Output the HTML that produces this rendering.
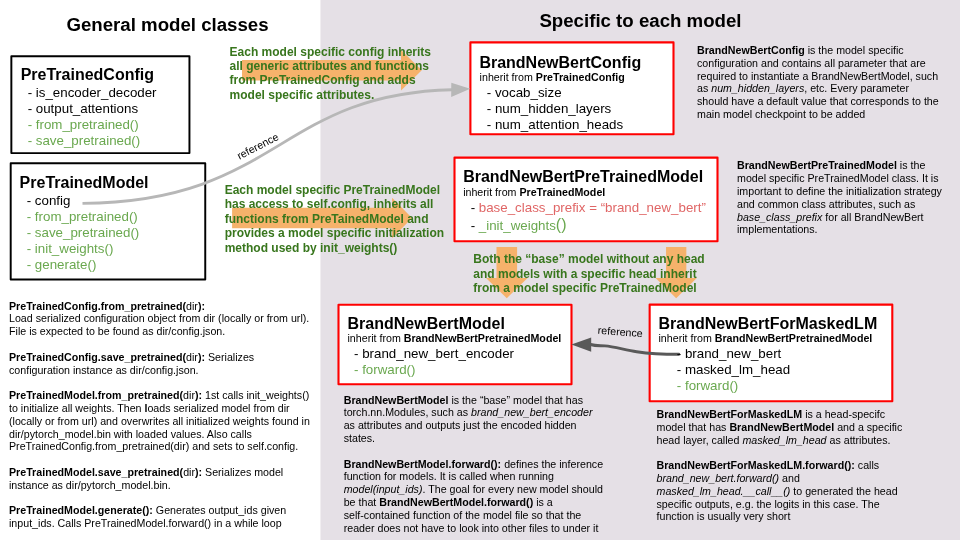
<!DOCTYPE html>
<html lang="en">
<head>
<meta charset="utf-8">
<title>Model class overview</title>
<style>
html,body{margin:0;padding:0;}
body{width:960px;height:540px;overflow:hidden;background:#fff;font-family:"Liberation Sans",sans-serif;color:#000;}
#slide{position:relative;width:960px;height:540px;overflow:hidden;background:#fff;}
.shapes{position:absolute;left:0;top:0;}
#text{position:absolute;left:0;top:0;width:960px;height:540px;will-change:transform;}
#text div{position:absolute;white-space:nowrap;}
.s{font-size:10.67px;line-height:13px;}
.g{font-size:12px;line-height:14px;}
.i{font-size:13.33px;line-height:16px;}
.t{font-size:16px;line-height:19px;}
.h{font-size:18.67px;line-height:22px;}
.gr{color:#6aa84f;}
.rd{color:#e06666;}
.dg{color:#38761d;font-weight:bold;}
</style>
</head>
<body>
<div id="slide">
<svg class="shapes" width="960" height="540" viewBox="0 0 960 540">
<rect x="320.45" y="-1" width="640.55" height="542" fill="#e5e0e6"/>
<polygon points="242,60.0 401,60.0 401,50.0 421.8,70.2 401,90.4 401,80.4 242,80.4" fill="#f6b26b"/>
<polygon points="232.1,207.85 392.1,207.85 392.1,197.8 412.0,218 392.1,238.2 392.1,228.15 232.1,228.15" fill="#f6b26b"/>
<polygon points="496.50,247 517.10,247 517.10,278.1 527.60,278.1 506.8,298.2 486.00,278.1 496.50,278.1" fill="#f6b26b"/>
<polygon points="666.05,247 686.35,247 686.35,278.1 696.80,278.1 676.2,298.2 655.60,278.1 666.05,278.1" fill="#f6b26b"/>
</svg>
<svg class="shapes" width="960" height="540" viewBox="0 0 960 540">
<rect x="11.35" y="56.3" width="178.10" height="96.80" fill="#fff" stroke="#000" stroke-width="1.95" stroke-linejoin="round"/>
<rect x="10.7" y="163.25" width="194.55" height="116.15" fill="#fff" stroke="#000" stroke-width="1.95" stroke-linejoin="round"/>
<rect x="470.4" y="42.4" width="203.10" height="91.90" fill="#fff" stroke="#f00" stroke-width="2.1" stroke-linejoin="round"/>
<rect x="454.5" y="157.6" width="263.00" height="83.70" fill="#fff" stroke="#f00" stroke-width="2.1" stroke-linejoin="round"/>
<rect x="338.5" y="304.7" width="233.00" height="79.60" fill="#fff" stroke="#f00" stroke-width="2.1" stroke-linejoin="round"/>
<rect x="649.65" y="304.6" width="242.65" height="96.70" fill="#fff" stroke="#f00" stroke-width="2.1" stroke-linejoin="round"/>
</svg>
<svg class="shapes" width="960" height="540" viewBox="0 0 960 540">
<path d="M82.5 203.4 C278.5 201.6 278.3 93.7 452 89.7" fill="none" stroke="#b7b7b7" stroke-width="2.9"/>
<polygon points="451.3,82.8 470.2,88.8 451.2,97" fill="#b7b7b7"/>
<path d="M678.8 354.3 C660 354.3 648 353.4 636.7 351.7 C625 349.9 614 346.6 605 345.9 C600 345.5 596 346.2 590.5 344.5" fill="none" stroke="#595959" stroke-width="2.9" stroke-linecap="round"/>
<polygon points="591.2,337.6 571.4,344.6 591.2,351.7" fill="#595959"/>
</svg>
<div id="text">
<div class="h" style="left:66.40px;top:14px"><b>General model classes</b></div>
<div class="h" style="left:539.40px;top:10px"><b>Specific to each model</b></div>
<div class="t" style="left:20.65px;top:65px"><b>PreTrainedConfig</b></div>
<div class="i" style="left:27.65px;top:85px">- is_encoder_decoder</div>
<div class="i" style="left:27.65px;top:101px">- output_attentions</div>
<div class="i" style="left:27.65px;top:117px"><span class="gr">- from_pretrained()</span></div>
<div class="i" style="left:27.65px;top:133px"><span class="gr">- save_pretrained()</span></div>
<div class="t" style="left:19.60px;top:173px"><b>PreTrainedModel</b></div>
<div class="i" style="left:26.70px;top:193px">- config</div>
<div class="i" style="left:26.70px;top:209px"><span class="gr">- from_pretrained()</span></div>
<div class="i" style="left:26.70px;top:225px"><span class="gr">- save_pretrained()</span></div>
<div class="i" style="left:26.70px;top:241px"><span class="gr">- init_weights()</span></div>
<div class="i" style="left:26.70px;top:257px"><span class="gr">- generate()</span></div>
<div class="t" style="left:479.40px;top:53px"><b>BrandNewBertConfig</b></div>
<div class="s" style="left:479.60px;top:71px">inherit from <b>PreTrainedConfig</b></div>
<div class="i" style="left:486.80px;top:85px">- vocab_size</div>
<div class="i" style="left:486.80px;top:101px">- num_hidden_layers</div>
<div class="i" style="left:486.80px;top:117px">- num_attention_heads</div>
<div class="t" style="left:463.15px;top:167px"><b>BrandNewBertPreTrainedModel</b></div>
<div class="s" style="left:463.15px;top:186px">inherit from <b>PreTrainedModel</b></div>
<div class="i" style="left:470.65px;top:200px">- <span class="rd">base_class_prefix = “brand_new_bert”</span></div>
<div class="i" style="left:470.65px;top:217px">- <span class="gr">_init_weights<span style="font-size:16px">()</span></span></div>
<div class="t" style="left:347.50px;top:314px"><b>BrandNewBertModel</b></div>
<div class="s" style="left:347.50px;top:332px">inherit from <b>BrandNewBertPretrainedModel</b></div>
<div class="i" style="left:354.00px;top:346px">- brand_new_bert_encoder</div>
<div class="i" style="left:354.00px;top:362px"><span class="gr">- forward()</span></div>
<div class="t" style="left:658.50px;top:314px"><b>BrandNewBertForMaskedLM</b></div>
<div class="s" style="left:658.50px;top:332px">inherit from <b>BrandNewBertPretrainedModel</b></div>
<div class="i" style="left:676.80px;top:346px">- brand_new_bert</div>
<div class="i" style="left:676.80px;top:362px">- masked_lm_head</div>
<div class="i" style="left:676.80px;top:378px"><span class="gr">- forward()</span></div>
<div class="g dg" style="left:229.60px;top:45px">Each model specific config inherits</div>
<div class="g dg" style="left:229.60px;top:59px">all generic attributes and functions</div>
<div class="g dg" style="left:229.60px;top:73px">from PreTrainedConfig and adds</div>
<div class="g dg" style="left:229.60px;top:88px">model specific attributes.</div>
<div class="g dg" style="left:224.70px;top:183px">Each model specific PreTrainedModel</div>
<div class="g dg" style="left:224.70px;top:197px">has access to self.config, inherits all</div>
<div class="g dg" style="left:224.70px;top:212px">functions from PreTainedModel and</div>
<div class="g dg" style="left:224.70px;top:226px">provides a model specific initialization</div>
<div class="g dg" style="left:224.70px;top:241px">method used by init_weights()</div>
<div class="g dg" style="left:473.30px;top:252px">Both the “base” model without any head</div>
<div class="g dg" style="left:473.30px;top:267px">and models with a specific head inherit</div>
<div class="g dg" style="left:473.30px;top:281px">from a model specific PreTrainedModel</div>
<div class="s" style="left:697.00px;top:44px"><b>BrandNewBertConfig</b> is the model specific</div>
<div class="s" style="left:697.00px;top:57px">configuration and contains all parameter that are</div>
<div class="s" style="left:697.00px;top:70px">required to instantiate a BrandNewBertModel, such</div>
<div class="s" style="left:697.00px;top:82px">as <i>num_hidden_layers</i>, etc. Every parameter</div>
<div class="s" style="left:697.00px;top:95px">should have a default value that corresponds to the</div>
<div class="s" style="left:697.00px;top:108px">main model checkpoint to be added</div>
<div class="s" style="left:737.00px;top:159px"><b>BrandNewBertPreTrainedModel</b> is the</div>
<div class="s" style="left:737.00px;top:172px">model specific PreTrainedModel class. It is</div>
<div class="s" style="left:737.00px;top:185px">important to define the initialization strategy</div>
<div class="s" style="left:737.00px;top:198px">and common class attributes, such as</div>
<div class="s" style="left:737.00px;top:211px"><i>base_class_prefix</i> for all BrandNewBert</div>
<div class="s" style="left:737.00px;top:223px">implementations.</div>
<div class="s" style="left:9.00px;top:300px"><b>PreTrainedConfig.from_pretrained(</b>dir<b>):</b></div>
<div class="s" style="left:9.00px;top:312px">Load serialized configuration object from dir (locally or from url).</div>
<div class="s" style="left:9.00px;top:325px">File is expected to be found as dir/config.json.</div>
<div class="s" style="left:9.00px;top:351px"><b>PreTrainedConfig.save_pretrained(</b>dir<b>):</b> Serializes</div>
<div class="s" style="left:9.00px;top:364px">configuration instance as dir/config.json.</div>
<div class="s" style="left:9.00px;top:389px"><b>PreTrainedModel.from_pretrained(</b>dir<b>):</b> 1st calls init_weights()</div>
<div class="s" style="left:9.00px;top:402px">to initialize all weights. Then <b>l</b>oads serialized model from dir</div>
<div class="s" style="left:9.00px;top:415px">(locally or from url) and overwrites all initialized weights found in</div>
<div class="s" style="left:9.00px;top:428px">dir/pytorch_model.bin with loaded values. Also calls</div>
<div class="s" style="left:9.00px;top:440px">PreTrainedConfig.from_pretrained(dir) and sets to self.config.</div>
<div class="s" style="left:9.00px;top:466px"><b>PreTrainedModel.save_pretrained(</b>dir<b>):</b> Serializes model</div>
<div class="s" style="left:9.00px;top:479px">instance as dir/pytorch_model.bin.</div>
<div class="s" style="left:9.00px;top:504px"><b>PreTrainedModel.generate():</b> Generates output_ids given</div>
<div class="s" style="left:9.00px;top:517px">input_ids. Calls PreTrainedModel.forward() in a while loop</div>
<div class="s" style="left:343.70px;top:394px"><b>BrandNewBertModel</b> is the “base” model that has</div>
<div class="s" style="left:343.70px;top:406px">torch.nn.Modules, such as <i>brand_new_bert_encoder</i></div>
<div class="s" style="left:343.70px;top:419px">as attributes and outputs just the encoded hidden</div>
<div class="s" style="left:343.70px;top:432px">states.</div>
<div class="s" style="left:343.70px;top:458px"><b>BrandNewBertModel.forward():</b> defines the inference</div>
<div class="s" style="left:343.70px;top:470px">function for models. It is called when running</div>
<div class="s" style="left:343.70px;top:483px"><i>model(input_ids)</i>. The goal for every new model should</div>
<div class="s" style="left:343.70px;top:496px">be that <b>BrandNewBertModel.forward()</b> is a</div>
<div class="s" style="left:343.70px;top:509px">self-contained function of the model file so that the</div>
<div class="s" style="left:343.70px;top:522px">reader does not have to look into other files to under it</div>
<div class="s" style="left:656.50px;top:408px"><b>BrandNewBertForMaskedLM</b> is a head-specifc</div>
<div class="s" style="left:656.50px;top:421px">model that has <b>BrandNewBertModel</b> and a specific</div>
<div class="s" style="left:656.50px;top:434px">head layer, called <i>masked_lm_head</i> as attributes.</div>
<div class="s" style="left:656.50px;top:459px"><b>BrandNewBertForMaskedLM.forward():</b> calls</div>
<div class="s" style="left:656.50px;top:472px"><i>brand_new_bert.forward()</i> and</div>
<div class="s" style="left:656.50px;top:485px"><i>masked_lm_head.__call__()</i> to generated the head</div>
<div class="s" style="left:656.50px;top:498px">specific outputs, e.g. the logits in this case. The</div>
<div class="s" style="left:656.50px;top:510px">function is usually very short</div>
</div>
<svg class="shapes" width="960" height="540" viewBox="0 0 960 540" font-family="Liberation Sans, sans-serif" font-size="10.67" text-anchor="middle">
<text transform="translate(257.8 146.3) rotate(-27.2)" y="3.6">reference</text>
<text transform="translate(620.3 331.9) rotate(4.2)" y="3.6">reference</text>
</svg>
</div>
</body>
</html>
